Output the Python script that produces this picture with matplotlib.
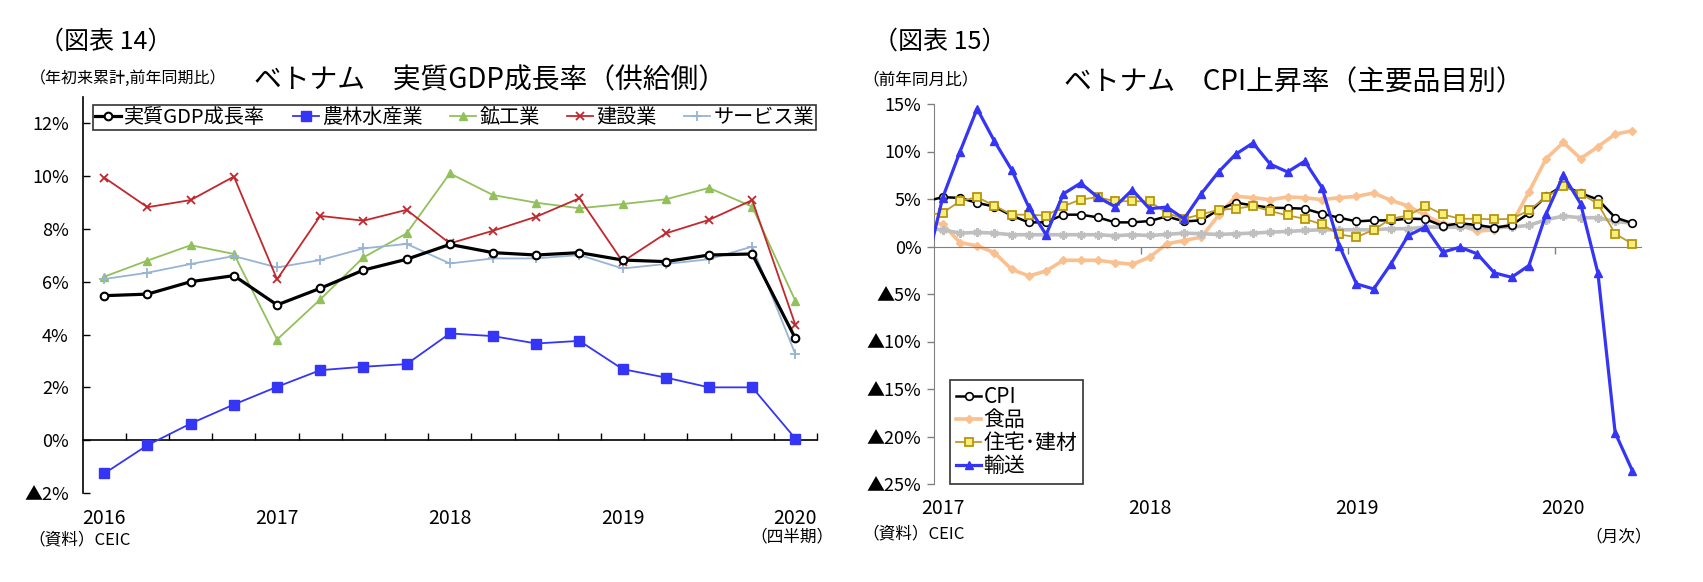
import numpy as np
import matplotlib
matplotlib.use("Agg")
from matplotlib import pyplot as plt
from matplotlib import ticker

plt.rcParams['font.family'] = ['Noto Sans CJK JP', 'DejaVu Sans']

W, H = 1703, 582

# ---- chart 14: quarterly GDP growth by sector (2016Q1 - 2020Q1)
q_years = ['2016', '2017', '2018', '2019', '2020']
gdp = [5.47, 5.53, 6.00, 6.23, 5.12, 5.75, 6.44, 6.85, 7.41, 7.10, 7.01, 7.10, 6.82, 6.76, 7.01, 7.05, 3.85]
agri = [-1.26, -0.19, 0.63, 1.35, 2.02, 2.65, 2.78, 2.88, 4.04, 3.94, 3.66, 3.76, 2.69, 2.37, 2.00, 2.00, 0.06]
mining = [6.19, 6.80, 7.38, 7.05, 3.81, 5.33, 6.92, 7.83, 10.10, 9.28, 8.99, 8.78, 8.94, 9.12, 9.55, 8.84, 5.27]
constr = [9.94, 8.82, 9.09, 9.98, 6.09, 8.49, 8.31, 8.72, 7.45, 7.93, 8.46, 9.16, 6.76, 7.83, 8.34, 9.09, 4.36]
service = [6.10, 6.34, 6.67, 6.97, 6.54, 6.82, 7.26, 7.43, 6.69, 6.88, 6.88, 7.01, 6.50, 6.67, 6.85, 7.33, 3.25]

# ---- chart 15: monthly CPI by item, Dec 2016 - May 2020 (first value is clipped by the axis)
m_years = ['2017', '2018', '2019', '2020']
cpi = [4.74,
       5.19, 5.12, 4.59, 4.20, 3.25, 2.54, 2.54, 3.35, 3.35, 3.07, 2.54, 2.54,
       2.68, 3.17, 2.64, 2.75, 3.87, 4.61, 4.33, 4.08, 4.05, 3.98, 3.45, 3.03,
       2.64, 2.75, 2.75, 2.93, 2.88, 2.16, 2.44, 2.26, 1.98, 2.24, 3.52, 5.30,
       6.44, 5.60, 4.95, 3.05, 2.46]
food = [2.60,
        2.37, 0.42, 0.07, -0.64, -2.40, -3.10, -2.58, -1.45, -1.45, -1.45, -1.69, -1.87,
        -1.13, 0.28, 0.63, 0.99, 3.27, 5.28, 5.14, 4.93, 5.21, 5.14, 4.93, 5.14,
        5.28, 5.63, 4.86, 4.26, 3.27, 2.39, 2.22, 1.62, 1.76, 2.39, 5.74, 9.26,
        10.95, 9.26, 10.50, 11.83, 12.18]
housing = [3.30,
           3.53, 4.77, 5.19, 4.31, 3.35, 3.35, 3.25, 4.24, 4.94, 5.19, 4.77, 4.77,
           4.75, 3.52, 2.92, 3.38, 3.87, 3.98, 4.26, 3.73, 3.27, 2.92, 2.32, 1.27,
           0.99, 1.76, 2.92, 3.27, 4.26, 3.38, 2.92, 2.92, 2.85, 2.92, 3.80, 5.21,
           6.34, 5.56, 4.50, 1.34, 0.28]
transport = [-2.50,
             5.12, 9.95, 14.50, 11.10, 8.08, 4.13, 1.24, 5.54, 6.67, 5.19, 4.20, 5.96,
             3.98, 4.15, 2.92, 5.56, 7.85, 9.72, 10.90, 8.66, 7.85, 8.98, 6.20, 0.10,
             -3.94, -4.47, -1.83, 1.16, 2.04, -0.60, -0.07, -0.77, -2.78, -3.24, -2.00, 3.45,
             7.50, 4.50, -2.78, -19.60, -23.60]
core = [1.87,
        1.76, 1.41, 1.48, 1.41, 1.24, 1.24, 1.24, 1.24, 1.24, 1.24, 1.13, 1.24,
        1.16, 1.27, 1.41, 1.34, 1.27, 1.34, 1.41, 1.51, 1.58, 1.69, 1.76, 1.76,
        1.76, 1.76, 1.87, 1.87, 2.04, 2.04, 2.04, 2.04, 2.04, 2.04, 2.22, 2.82,
        3.20, 3.03, 3.03, 2.64, 2.46]


def px(x, y):
    return x / W, 1 - y / H


def pct(v, pos):
    if v < 0:
        return '▲%d%%' % abs(round(v))
    return '%d%%' % round(v)


fig = plt.figure(figsize=(W / 100, H / 100), dpi=100)

# ================= left chart
ax1 = fig.add_axes([82.7 / W, 1 - 493 / H, 734.3 / W, 396.2 / H])
xq = np.arange(len(gdp))
ax1.plot(xq, mining, color='#92c05a', lw=1.3, marker='^', ms=6, label='鉱工業', zorder=3)
ax1.plot(xq, service, color='#98b4d4', lw=1.3, marker='+', ms=7, mew=1.3, label='サービス業', zorder=3)
ax1.plot(xq, constr, color='#c0282d', lw=1.3, marker='x', ms=5.5, mew=1.3, label='建設業', zorder=4)
ax1.plot(xq, agri, color='#3535f5', lw=1.3, marker='s', ms=6.5, label='農林水産業', zorder=4)
ax1.plot(xq, gdp, color='black', lw=2.3, marker='o', ms=5.5, mfc='white', mec='black', mew=1.5,
         label='実質GDP成長率', zorder=5)

ax1.set_xlim(-0.5, len(gdp) - 0.5)
ax1.set_ylim(-2, 13)
ax1.yaxis.set_major_locator(ticker.FixedLocator(np.arange(-2, 13, 2)))
ax1.yaxis.set_major_formatter(ticker.FuncFormatter(pct))
ax1.tick_params(axis='y', direction='in', length=5, width=1, labelsize=13, pad=10)
for s in ['top', 'right']:
    ax1.spines[s].set_visible(False)
ax1.spines['bottom'].set_position(('data', 0))
ax1.spines['bottom'].set_linewidth(1.2)
ax1.spines['left'].set_linewidth(1.2)
ax1.xaxis.set_major_locator(ticker.FixedLocator(np.arange(0, len(gdp), 4)))
ax1.xaxis.set_major_formatter(ticker.FixedFormatter(q_years))
ax1.xaxis.set_minor_locator(ticker.FixedLocator(np.arange(0.5, len(gdp), 1)))
ax1.tick_params(axis='x', which='major', length=0, labelsize=14, pad=49)
ax1.tick_params(axis='x', which='minor', direction='in', length=5, width=1)

h, l = ax1.get_legend_handles_labels()
order = [4, 3, 0, 2, 1]
leg1 = ax1.legend([h[i] for i in order], [l[i] for i in order], ncol=5, mode='expand',
                  loc='upper left', bbox_to_anchor=(0.014, 0.9134, 0.9846, 0.0656),
                  borderaxespad=0, fontsize=14.5, frameon=True, fancybox=False,
                  edgecolor='black', handlelength=1.3, handletextpad=0.15,
                  columnspacing=1.0, borderpad=0.1)
leg1.get_frame().set_linewidth(1.2)

# ================= right chart
ax2 = fig.add_axes([934 / W, 1 - 484 / H, 707 / W, 380 / H])
xm = np.arange(-1, len(cpi) - 1)
ax2.plot(xm, food, color='#fac090', lw=2.6, marker='D', ms=4.5, label='食品', zorder=2)
ax2.plot(xm, core, color='#bfbfbf', lw=2.6, marker=(6, 2, 0), ms=6, mew=1.8, zorder=3)
ax2.plot(xm, cpi, color='black', lw=1.8, marker='o', ms=5.5, mfc='white', mec='black', mew=1.2,
         label='CPI', zorder=4)
ax2.plot(xm, housing, color='#c09a2a', lw=1.3, marker='s', ms=6, mfc='#f5f07a', mec='#b8940c',
         mew=1.3, label='住宅･建材', zorder=5)
ax2.plot(xm, transport, color='#3535f5', lw=2.3, marker='^', ms=5.5, label='輸送', zorder=6)

ax2.set_xlim(-0.5, len(cpi) - 1.5)
ax2.set_ylim(-25, 15)
ax2.yaxis.set_major_locator(ticker.FixedLocator(np.arange(-25, 16, 5)))
ax2.yaxis.set_major_formatter(ticker.FuncFormatter(pct))
ax2.tick_params(axis='y', direction='out', length=5, width=1, color='#808080', labelsize=13, pad=4)
for s in ['top', 'right']:
    ax2.spines[s].set_visible(False)
ax2.spines['left'].set_color('#808080')
ax2.spines['bottom'].set_position(('data', 0))
ax2.spines['bottom'].set_color('#808080')
ax2.xaxis.set_major_locator(ticker.FixedLocator(np.arange(0, len(cpi) - 1, 12)))
ax2.xaxis.set_major_formatter(ticker.FixedFormatter(m_years))
ax2.xaxis.set_minor_locator(ticker.FixedLocator(np.arange(11.5, len(cpi) - 1, 12)))
ax2.tick_params(axis='x', which='major', length=0, labelsize=14, pad=181)
ax2.tick_params(axis='x', which='minor', direction='out', length=5, width=1, color='#808080')

h, l = ax2.get_legend_handles_labels()
order = [1, 0, 2, 3]
leg2 = ax2.legend([h[i] for i in order], [l[i] for i in order], loc='upper left',
                  bbox_to_anchor=(0.0226, 0.2737), borderaxespad=0, fontsize=15,
                  frameon=True, fancybox=False, edgecolor='black', handlelength=1.2,
                  handletextpad=0.1, labelspacing=0.05, borderpad=0.3)
leg2.get_frame().set_linewidth(1.2)

# ================= texts
fig.text(*px(106, 42), '（図表 14）', fontsize=18, ha='center', va='center')
fig.text(*px(940, 42), '（図表 15）', fontsize=18, ha='center', va='center')
fig.text(*px(490, 80), 'ベトナム　実質GDP成長率（供給側）', fontsize=20, ha='center', va='center')
fig.text(*px(1294, 82), 'ベトナム　CPI上昇率（主要品目別）', fontsize=20, ha='center', va='center')
fig.text(*px(30, 78), '（年初来累計,前年同期比）', fontsize=11.5, ha='left', va='center')
fig.text(*px(862, 80), '（前年同月比）', fontsize=12, ha='left', va='center')
fig.text(*px(28, 540), '（資料）CEIC', fontsize=12, ha='left', va='center')
fig.text(*px(862, 534), '（資料）CEIC', fontsize=12, ha='left', va='center')
fig.text(*px(834, 537), '（四半期）', fontsize=12, ha='right', va='center')
fig.text(*px(1652, 537), '（月次）', fontsize=12, ha='right', va='center')

fig.savefig('out.png', dpi=100)
